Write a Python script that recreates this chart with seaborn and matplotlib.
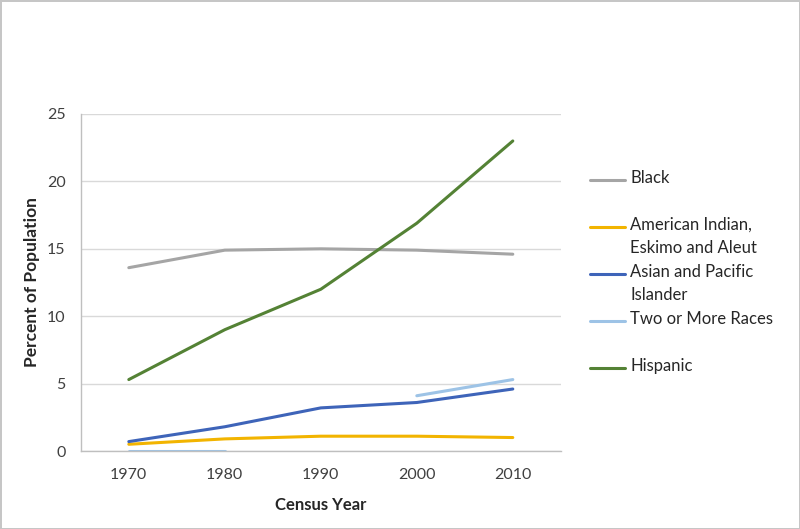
import numpy as np
import pandas as pd
import seaborn as sns
import matplotlib.pyplot as plt
from matplotlib.legend_handler import HandlerLine2D

years = ["1970", "1980", "1990", "2000", "2010"]
black = [13.6, 14.9, 15.0, 14.9, 14.6]
american_indian = [0.5, 0.9, 1.1, 1.1, 1.0]
asian = [0.7, 1.8, 3.2, 3.6, 4.6]
two_or_more = [0.0, 0.0, np.nan, 4.1, 5.3]
hispanic = [5.3, 9.0, 12.0, 16.9, 23.0]

labels = ["Black", "American Indian,\nEskimo and Aleut", "Asian and Pacific\nIslander",
          "Two or More Races", "Hispanic"]
colors = ["#A5A5A5", "#F2B400", "#3E64B9", "#9DC3E6", "#548235"]

# long form, with a segment id so the missing 1990 value leaves a gap
rows = []
for name, vals in zip(labels, [black, american_indian, asian, two_or_more, hispanic]):
    seg = 0
    for i, v in enumerate(vals):
        if np.isnan(v):
            seg += 1
            continue
        rows.append({"x": i, "Percent": v, "Group": name, "Seg": f"{name}-{seg}"})
df = pd.DataFrame(rows)

sns.set_style("white")
plt.rcParams["font.family"] = ["Lato", "DejaVu Sans"]

fig = plt.figure(figsize=(8, 5.29), dpi=100)
fig.patch.set_edgecolor("#c6c6c6")
fig.patch.set_linewidth(2)
ax = fig.add_axes([0.101, 0.1474, 0.600, 0.6371])

sns.lineplot(data=df, x="x", y="Percent", hue="Group", units="Seg", estimator=None,
             hue_order=labels, palette=colors, linewidth=2.2, ax=ax, legend=False)

ax.set_xlim(-0.5, 4.5)
ax.set_ylim(0, 25)
ax.set_xticks(range(5))
ax.set_xticklabels(years)
ax.set_xticks([0.5, 1.5, 2.5, 3.5], minor=True)
ax.set_yticks(range(0, 26, 5))
ax.tick_params(axis="x", which="major", length=0, labelsize=11.5, pad=12, colors="#404040")
ax.tick_params(axis="x", which="minor", length=5, width=1, color="#bfbfbf", direction="out")
ax.tick_params(axis="y", length=5, width=1, color="#bfbfbf", labelsize=11.5, pad=6,
               labelcolor="#404040")
ax.yaxis.grid(True, color="#d9d9d9", linewidth=1)
for s in ["top", "right"]:
    ax.spines[s].set_visible(False)
for s in ["left", "bottom"]:
    ax.spines[s].set_color("#bfbfbf")
    ax.spines[s].set_linewidth(1)

ax.set_xlabel("Census Year", fontsize=12, fontweight="bold", labelpad=11)
ax.set_ylabel("Percent of Population", fontsize=12.5, fontweight="bold", labelpad=5)


class TopLine(HandlerLine2D):
    # put the legend line on the first text line of the entry
    def create_artists(self, legend, orig_handle, xdescent, ydescent, width, height,
                       fontsize, trans):
        arts = super().create_artists(legend, orig_handle, xdescent, ydescent, width,
                                      height, fontsize, trans)
        for a in arts:
            a.set_ydata(np.asarray(a.get_ydata()) + 0.62 * fontsize)
        return arts


handles = [plt.Line2D([], [], color=c, linewidth=2.2) for c in colors]
leg_labels = [l if "\n" in l else l + "\n " for l in labels]
leg = fig.legend(handles, leg_labels, loc="upper left", bbox_to_anchor=(0.738, 0.679),
                 frameon=False, fontsize=12, labelspacing=0.48, handlelength=2.1,
                 handletextpad=0.3, borderpad=0, borderaxespad=0,
                 handler_map={plt.Line2D: TopLine()})
for t in leg.get_texts():
    t.set_linespacing(1.55)
    t.set_color("#262626")

fig.savefig("out.png", dpi=100)
